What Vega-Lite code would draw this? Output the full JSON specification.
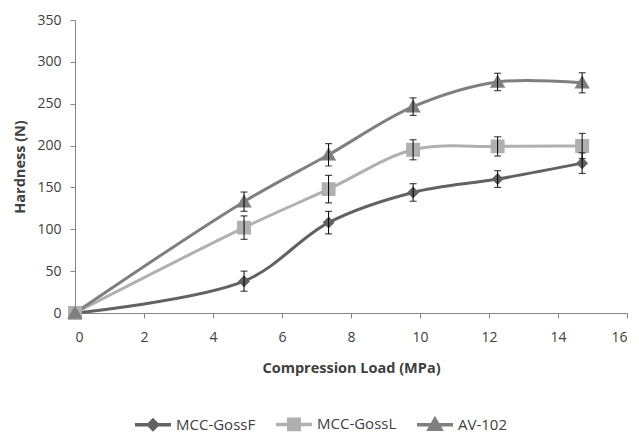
{
  "$schema": "https://vega.github.io/schema/vega-lite/v6.json",
  "width": 552,
  "height": 293,
  "autosize": "none",
  "padding": {"left": 75, "top": 20, "right": 12, "bottom": 120},
  "background": "white",
  "config": {
    "view": {"stroke": null},
    "font": "Open Sans",
    "axis": {
      "grid": false,
      "domainColor": "#868686",
      "domainWidth": 1,
      "tickColor": "#868686",
      "tickSize": 5,
      "labelColor": "#404040",
      "labelFont": "Open Sans",
      "labelFontSize": 14,
      "titleColor": "#404040",
      "titleFont": "Open Sans",
      "titleFontSize": 14.5,
      "titleFontWeight": "bold"
    },
    "legend": {
      "orient": "none",
      "direction": "horizontal",
      "legendX": 58,
      "legendY": 384,
      "padding": 0,
      "symbolSize": 1296,
      "labelFont": "Open Sans",
      "labelFontSize": 15,
      "labelColor": "#404040",
      "labelOffset": 3,
      "columnPadding": 13,
      "symbolStrokeWidth": 3.5
    }
  },
  "data": {
    "values": [
      {"series": "MCC-GossF", "x": 0, "y": 0, "err": 0},
      {"series": "MCC-GossF", "x": 4.9, "y": 38, "err": 12},
      {"series": "MCC-GossF", "x": 7.35, "y": 108, "err": 13.5},
      {"series": "MCC-GossF", "x": 9.8, "y": 144, "err": 10.5},
      {"series": "MCC-GossF", "x": 12.25, "y": 160, "err": 10},
      {"series": "MCC-GossF", "x": 14.7, "y": 179, "err": 12.3},
      {"series": "MCC-GossL", "x": 0, "y": 0, "err": 0},
      {"series": "MCC-GossL", "x": 4.9, "y": 102, "err": 14},
      {"series": "MCC-GossL", "x": 7.35, "y": 148, "err": 16.5},
      {"series": "MCC-GossL", "x": 9.8, "y": 195, "err": 12},
      {"series": "MCC-GossL", "x": 12.25, "y": 199, "err": 11.5},
      {"series": "MCC-GossL", "x": 14.7, "y": 199.5, "err": 15},
      {"series": "AV-102", "x": 0, "y": 0, "err": 0},
      {"series": "AV-102", "x": 4.9, "y": 133, "err": 11.5},
      {"series": "AV-102", "x": 7.35, "y": 189, "err": 13.4},
      {"series": "AV-102", "x": 9.8, "y": 246.5, "err": 10.5},
      {"series": "AV-102", "x": 12.25, "y": 276, "err": 10.4},
      {"series": "AV-102", "x": 14.7, "y": 275, "err": 12}
    ]
  },
  "encoding": {
    "x": {
      "field": "x", "type": "quantitative",
      "scale": {"domain": [0, 16], "nice": false},
      "axis": {"values": [0, 2, 4, 6, 8, 10, 12, 14, 16], "title": "Compression Load (MPa)", "labelPadding": 12, "titlePadding": 17}
    },
    "y": {
      "field": "y", "type": "quantitative",
      "scale": {"domain": [0, 350], "nice": false},
      "axis": {"values": [0, 50, 100, 150, 200, 250, 300, 350], "title": "Hardness (N)", "labelPadding": 9, "titlePadding": 9}
    }
  },
  "layer": [
    {
      "mark": {"type": "line", "interpolate": "catmull-rom", "strokeWidth": 3},
      "encoding": {
        "color": {
          "field": "series", "type": "nominal",
          "scale": {"domain": ["MCC-GossF", "MCC-GossL", "AV-102"], "range": ["#626262", "#b0b0b0", "#7f7f7f"]},
          "legend": {"title": null}
        }
      }
    },
    {
      "mark": {"type": "point", "filled": true, "opacity": 1, "size": 2304, "strokeWidth": 0},
      "encoding": {
        "color": {
          "field": "series", "type": "nominal",
          "scale": {"domain": ["MCC-GossF", "MCC-GossL", "AV-102"], "range": ["#626262", "#b0b0b0", "#7f7f7f"]},
          "legend": {"title": null}
        },
        "shape": {
          "field": "series", "type": "nominal",
          "scale": {
            "domain": ["MCC-GossF", "MCC-GossL", "AV-102"],
            "range": [
              "M-1,0H1M0,-0.25L0.25,0L0,0.25L-0.25,0Z",
              "M-1,0H1M-0.29,-0.29H0.29V0.29H-0.29Z",
              "M-1,0H1M0,-0.31L0.32,0.24L-0.32,0.24Z"
            ]
          },
          "legend": {"title": null}
        }
      }
    },
    {
      "transform": [{"filter": "datum.x > 0"}],
      "mark": {"type": "errorbar", "ticks": {"color": "black", "size": 7, "thickness": 1.2}, "rule": {"color": "black", "strokeWidth": 1}},
      "encoding": {
        "y": {"field": "y", "type": "quantitative"},
        "yError": {"field": "err"}
      }
    }
  ]
}
